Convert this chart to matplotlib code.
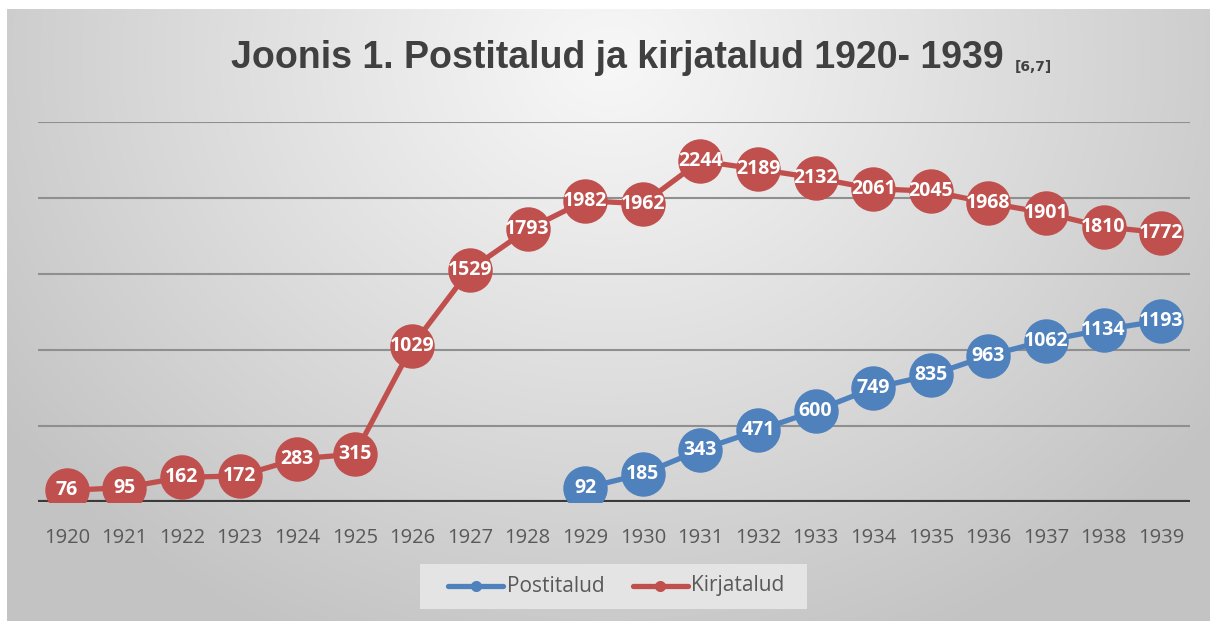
import numpy as np
import matplotlib
matplotlib.use("Agg")
import matplotlib.pyplot as plt
from matplotlib import font_manager
from matplotlib.lines import Line2D
from matplotlib.patches import Rectangle

years = [str(y) for y in range(1920, 1940)]
kirjatalud = [76, 95, 162, 172, 283, 315, 1029, 1529, 1793, 1982, 1962,
              2244, 2189, 2132, 2061, 2045, 1968, 1901, 1810, 1772]
postitalud_years = [str(y) for y in range(1929, 1940)]
postitalud = [92, 185, 343, 471, 600, 749, 835, 963, 1062, 1134, 1193]
series_names = ["Postitalud", "Kirjatalud"]

title_text = "Joonis 1. Postitalud ja kirjatalud 1920- 1939"
ref_text = "[6,7]"

RED = "#C0504D"
BLUE = "#4F81BD"

names = {f.name for f in font_manager.fontManager.ttflist}
title_font = "Liberation Sans Narrow" if "Liberation Sans Narrow" in names else "Liberation Sans"
body_font = ["Open Sans", "DejaVu Sans"]

W, H = 1210, 621
fig = plt.figure(figsize=(W / 100, H / 100), dpi=100)
fig.patch.set_facecolor("white")

# background gradient
bg = fig.add_axes([7 / W, 0, 1 - 7 / W, 1 - 9 / H])
bg.set_axis_off()
ny, nx = 300, 600
yy, xx = np.mgrid[0:ny, 0:nx]
cx, cy = nx * 0.5, ny * 0.08
r = np.sqrt(((xx - cx) / (nx * 0.62)) ** 2 + ((yy - cy) / (ny * 1.05)) ** 2)
r = np.clip(r, 0, 1)
light, dark = 0.97, 0.765
val = light - (light - dark) * r ** 1.05
img = np.dstack([val, val, val])
bg.imshow(img, aspect="auto", extent=[0, 1, 1, 0], interpolation="bilinear")
bg.set_xlim(0, 1)
bg.set_ylim(1, 0)

# main axes
left = 38 / W
right = 1190 / W
bottom = (H - 502) / H
top = (H - 122) / H
ax = fig.add_axes([left, bottom, right - left, top - bottom])
ax.set_facecolor("none")
for s in ax.spines.values():
    s.set_visible(False)

x_all = np.arange(len(years))
ax.set_xlim(-0.5, len(years) - 0.5)
ax.set_ylim(0, 2500)
for g in [500, 1000, 1500, 2000, 2500]:
    ax.axhline(g, color="#8f8f8f", lw=1.5, zorder=1)
ax.axhline(0, color="#3a3a3a", lw=3, zorder=2)

px = [years.index(y) for y in postitalud_years]
ax.plot(px, postitalud, color=BLUE, lw=3.8, marker="o", markersize=32,
        markeredgewidth=0, zorder=3, solid_capstyle="round")
ax.plot(x_all, kirjatalud, color=RED, lw=3.8, marker="o", markersize=32,
        markeredgewidth=0, zorder=3, solid_capstyle="round")

for xi, v in zip(px, postitalud):
    ax.text(xi, v, str(v), ha="center", va="center", color="white",
            fontsize=14, fontweight="bold", family=body_font, zorder=5)
for xi, v in zip(x_all, kirjatalud):
    ax.text(xi, v, str(v), ha="center", va="center", color="white",
            fontsize=14, fontweight="bold", family=body_font, zorder=5)

ax.set_xticks(x_all)
ax.set_xticklabels(years, family=body_font, fontsize=14.5, color="#595959")
ax.tick_params(axis="x", length=0, pad=19)
ax.set_yticks([])

# title
fig.text(617 / W, 1 - 68 / H, title_text, ha="center", va="baseline",
         family=title_font, fontweight="bold", fontsize=27, color="#404040")
fig.text(1015 / W, 1 - 71 / H, ref_text, ha="left", va="baseline",
         family=["DejaVu Sans"], fontweight="bold", fontsize=10, color="#404040")

# legend (manual)
fig.patches.append(Rectangle((420 / W, (H - 609) / H), (807 - 420) / W, 45 / H,
                             transform=fig.transFigure, facecolor="#e4e4e4",
                             edgecolor="none", zorder=1))
ly = (H - 586) / H
for (x0, x1, tx), col, name in zip([(448, 503, 507), (633, 688, 691)],
                                   [BLUE, RED], series_names):
    fig.lines.append(Line2D([x0 / W, x1 / W], [ly, ly], transform=fig.transFigure,
                            color=col, lw=3.8, solid_capstyle="round", zorder=2))
    fig.lines.append(Line2D([(x0 + x1) / 2 / W], [ly], transform=fig.transFigure,
                            color=col, marker="o", markersize=8, markeredgewidth=0,
                            zorder=3))
    fig.text(tx / W, ly, name, ha="left", va="center", family=body_font,
             fontsize=15, color="#595959", zorder=3)

fig.savefig("out.png", dpi=100)
